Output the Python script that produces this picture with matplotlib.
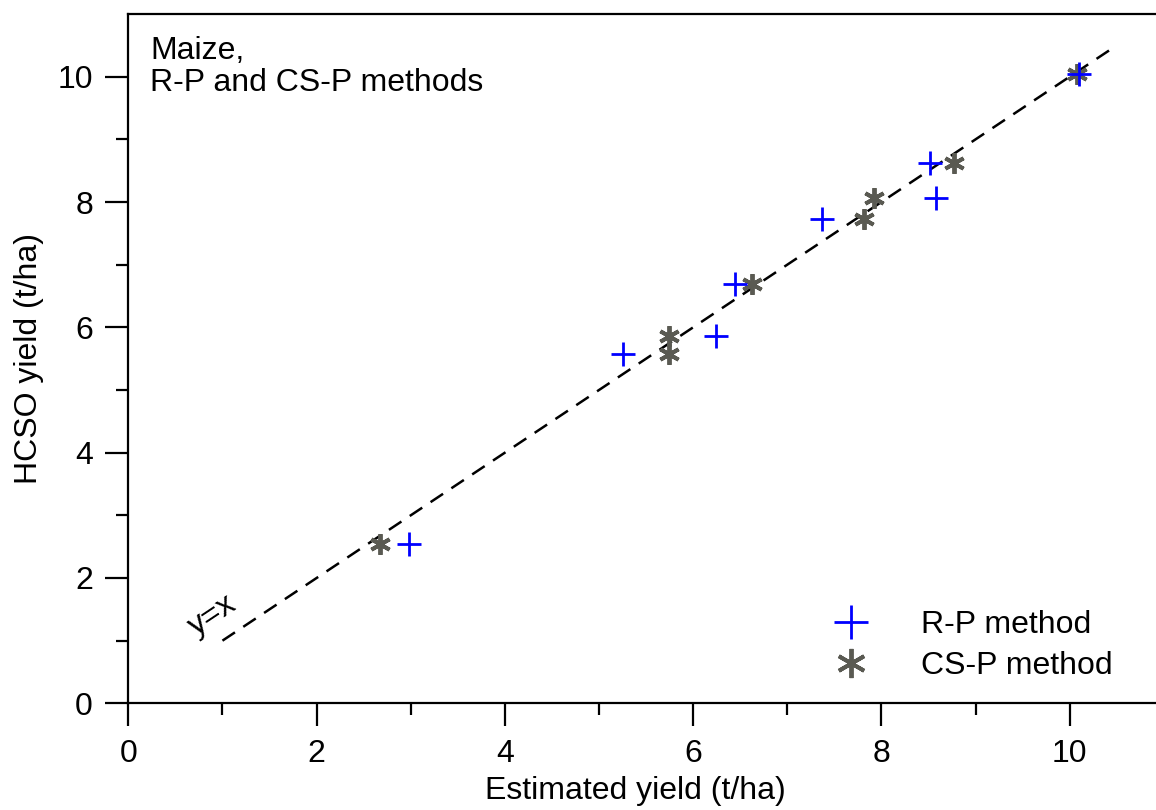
import numpy as np
import matplotlib
matplotlib.use("Agg")
import matplotlib.pyplot as plt
from matplotlib.lines import Line2D

# HCSO yields (shared by both methods) and the estimated yields
hcso_yield = [2.55, 5.57, 5.86, 6.69, 7.73, 8.63, 8.07, 10.05]
rp_estimated = [2.98, 5.25, 6.24, 6.44, 7.37, 8.52, 8.58, 10.10]
csp_hcso = [2.55, 5.86, 5.57, 6.69, 7.73, 8.07, 8.63, 10.05]
csp_estimated = [2.67, 5.74, 5.74, 6.62, 7.81, 7.92, 8.77, 10.08]

line_range = [1.0, 10.5]
x_ticks = [0, 2, 4, 6, 8, 10]
y_ticks = [0, 2, 4, 6, 8, 10]

plt.rcParams['font.family'] = ['Liberation Sans', 'DejaVu Sans']
FS = 23

blue = '#0000ff'
grey = '#5a5a52'
star = (6, 2, 0)

fig = plt.figure(figsize=(11.56, 8.10), dpi=100)
ax = fig.add_axes([0.111, 0.1317, 0.8958, 0.851])

# y = x reference line
ax.plot(line_range, line_range, color='black', lw=1.8, dashes=(6, 4), zorder=1)

ax.plot(csp_estimated, csp_hcso, linestyle='none', marker=star, ms=15,
        mew=2.8, color=grey, zorder=2)
ax.plot(rp_estimated, hcso_yield, linestyle='none', marker='+', ms=17,
        mew=2.0, color=blue, zorder=3)

ax.set_xlim(0, 11)
ax.set_ylim(0, 11)
ax.set_xticks(x_ticks)
ax.set_yticks(y_ticks)
ax.set_xticks(np.arange(1, 11, 2), minor=True)
ax.set_yticks(np.arange(1, 11, 2), minor=True)
ax.tick_params(which='major', length=16.5, width=1.6, labelsize=FS, pad=9)
ax.tick_params(which='minor', length=8.5, width=1.6)
for s in ax.spines.values():
    s.set_linewidth(1.6)

ax.set_xlabel('Estimated yield (t/ha)', fontsize=FS)
ax.set_ylabel('HCSO yield (t/ha)', fontsize=FS)
ax.xaxis.set_label_coords(0.49, -0.105)
ax.yaxis.set_label_coords(-0.081, 0.5)

ax.text(0.021, 0.968, 'Maize,\nR-P and CS-P methods', transform=ax.transAxes,
        fontsize=FS, ha='left', va='top', linespacing=1.1)
ax.text(0.9, 1.4, 'y=x', fontsize=FS, rotation=33.7, rotation_mode='anchor',
        ha='center', va='center')

handles = [
    Line2D([], [], linestyle='none', marker='+', ms=17, mew=2.0, color=blue),
    Line2D([], [], linestyle='none', marker=star, ms=15, mew=2.8, color=grey),
]
ax.legend(handles, ['R-P method', 'CS-P method'], loc='upper left',
          bbox_to_anchor=(0.6745, 0.1356), frameon=False, fontsize=FS,
          markerscale=1.4, borderpad=0, handlelength=1.5, handletextpad=1.45,
          labelspacing=0.35, borderaxespad=0)

fig.savefig('out.png', dpi=100)
